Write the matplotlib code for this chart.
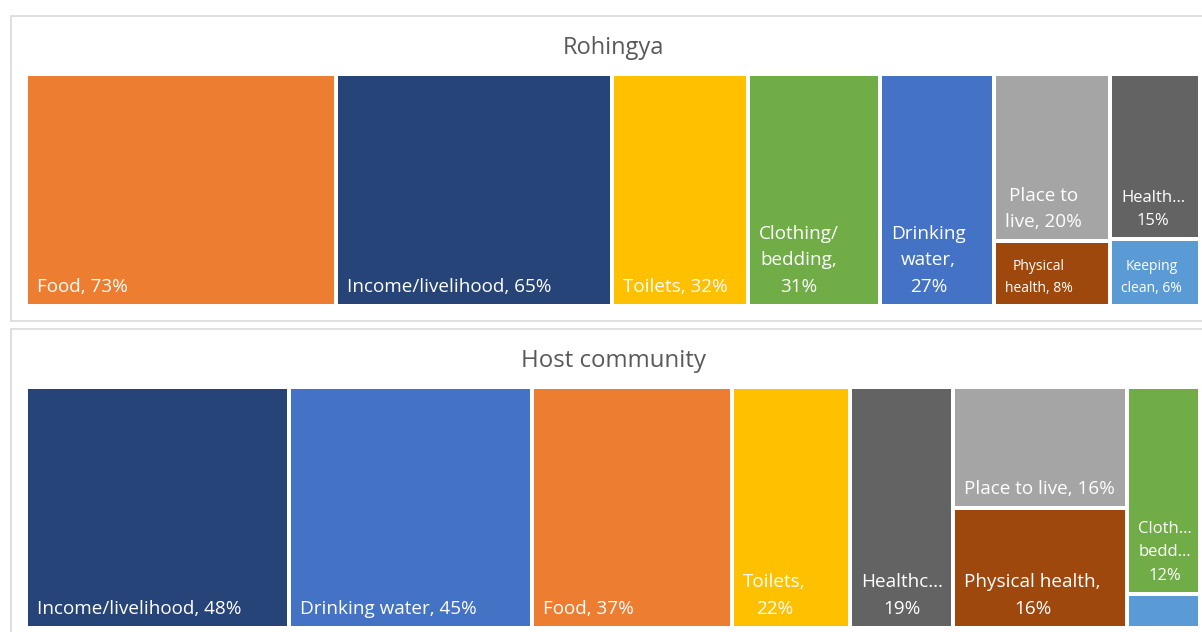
import matplotlib.pyplot as plt
from matplotlib.patches import Rectangle

plt.rcParams['font.family'] = ['Open Sans', 'DejaVu Sans']

# colours by need category (Office palette)
colors = {
    'Food': '#ED7D31',
    'Income/livelihood': '#264478',
    'Toilets': '#FFC000',
    'Clothing/bedding': '#70AD47',
    'Drinking water': '#4472C4',
    'Place to live': '#A5A5A5',
    'Physical health': '#9E480E',
    'Healthcare': '#636363',
    'Keeping clean': '#5B9BD5',
}

# Rohingya (share of respondents, %)
roh_cats = ['Food', 'Income/livelihood', 'Toilets', 'Clothing/bedding', 'Drinking water',
            'Place to live', 'Physical health', 'Healthcare', 'Keeping clean']
roh_vals = [73.0, 65.0, 32.0, 31.1, 26.8, 19.7, 7.6, 15.1, 6.1]
roh_cols = [0, 1, 2, 3, 4, 5, 5, 6, 6]
roh_labels = ['Food, 73%', 'Income/livelihood, 65%', 'Toilets, 32%', 'Clothing/\nbedding,\n31%',
              'Drinking\nwater,\n27%', 'Place to\nlive, 20%', 'Physical\nhealth, 8%',
              'Health…\n15%', 'Keeping\nclean, 6%']

# Host community
host_cats = ['Income/livelihood', 'Drinking water', 'Food', 'Toilets', 'Healthcare',
             'Place to live', 'Physical health', 'Clothing/bedding', 'Keeping clean']
host_vals = [48.4, 44.8, 36.8, 21.7, 19.0, 16.0, 16.0, 11.5, 1.9]
host_cols = [0, 1, 2, 3, 4, 5, 5, 6, 6]
host_labels = ['Income/livelihood, 48%', 'Drinking water, 45%', 'Food, 37%', 'Toilets,\n22%',
               'Healthc…\n19%', 'Place to live, 16%', 'Physical health,\n16%', 'Cloth…\nbedd…\n12%', '']

fig = plt.figure(figsize=(12.02, 6.32), dpi=100)
ax = fig.add_axes([0, 0, 1, 1])
ax.set_xlim(0, 1202)
ax.set_ylim(632, 0)
ax.axis('off')


def treemap(cats, vals, cols, labels, x0, y0, w, h):
    total = sum(vals)
    ncol = max(cols) + 1
    x = x0
    for c in range(ncol):
        idx = [i for i in range(len(vals)) if cols[i] == c]
        csum = sum(vals[i] for i in idx)
        cw = w * csum / total
        y = y0
        for i in idx:
            ch = h * vals[i] / csum
            ax.add_patch(Rectangle((x + 2, y + 2), cw - 4, ch - 4,
                                   facecolor=colors[cats[i]], edgecolor='none'))
            if labels[i]:
                if ch < 80:
                    fs = 10
                elif cw < 100:
                    fs = 12
                else:
                    fs = 13.6
                ax.text(x + 11, y + ch - 10, labels[i], color='white', fontsize=fs,
                        ha='left', va='bottom', multialignment='center', linespacing=1.62)
            y += ch
        x += cw


# panel frames
ax.add_patch(Rectangle((11, 16), 1220, 305, facecolor='white', edgecolor='#D9D9D9', lw=1.2))
ax.add_patch(Rectangle((11, 329), 1220, 320, facecolor='white', edgecolor='#D9D9D9', lw=1.2))

ax.text(613, 48, 'Rohingya', fontsize=17, color='#595959', ha='center', va='center')
ax.text(613, 361, 'Host community', fontsize=17.3, color='#595959', ha='center', va='center')

treemap(roh_cats, roh_vals, roh_cols, roh_labels, 26, 74, 1174, 232)
treemap(host_cats, host_vals, host_cols, host_labels, 26, 387, 1174, 241)

fig.savefig('out.png', dpi=100)
